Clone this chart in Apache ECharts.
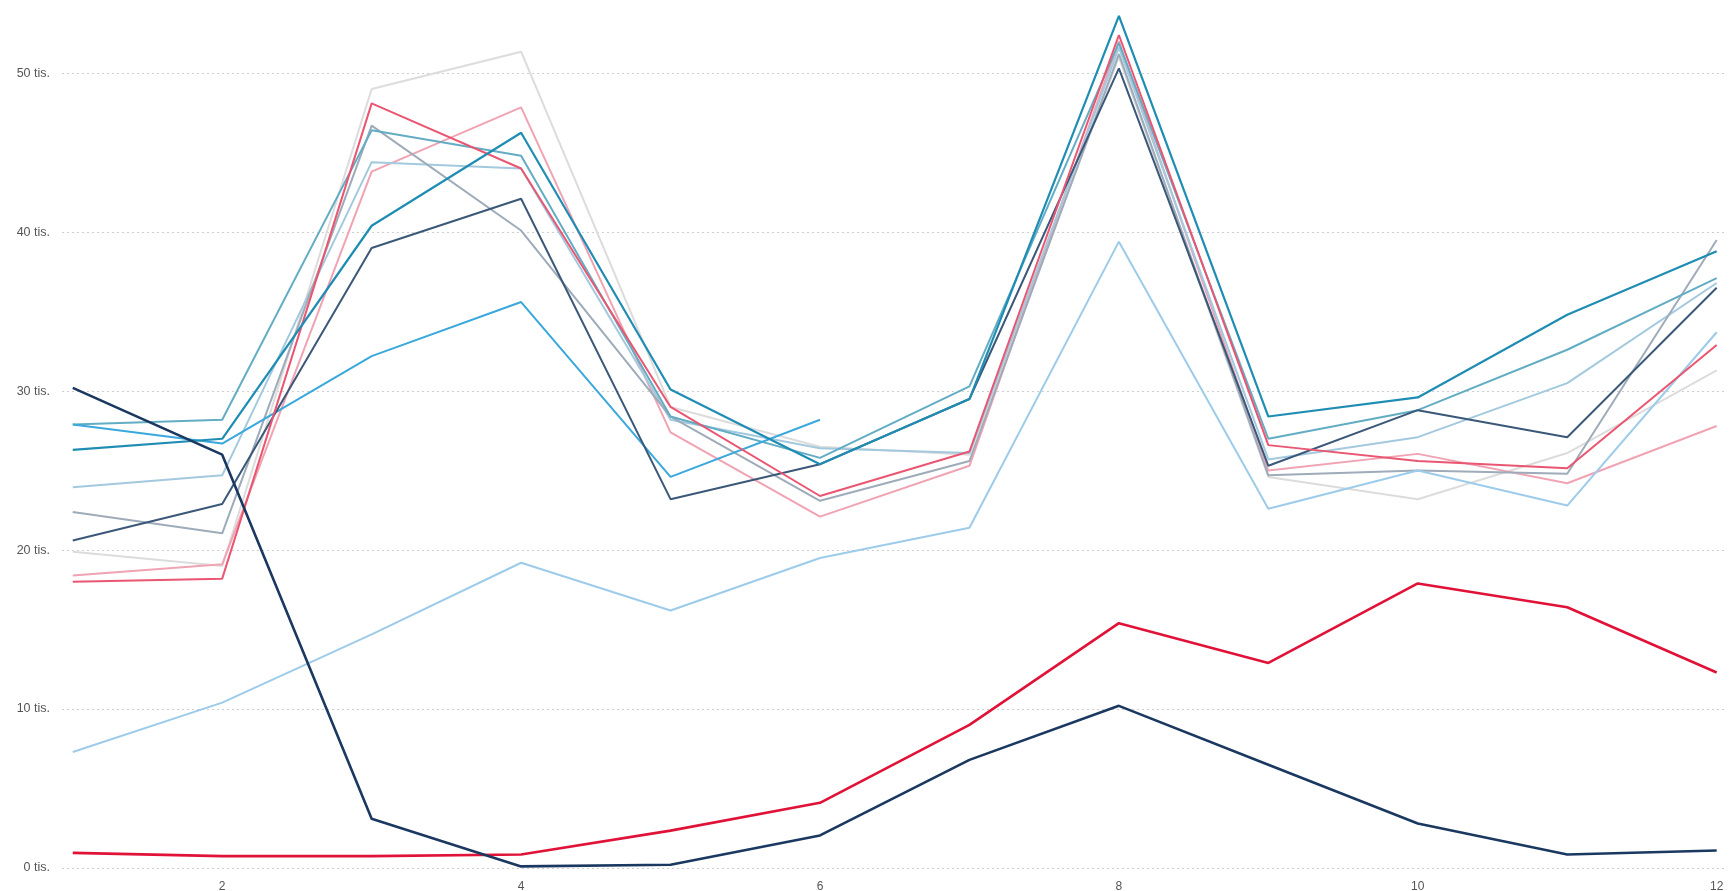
<!DOCTYPE html>
<html>
<head>
<meta charset="utf-8">
<script src="https://cdn.jsdelivr.net/npm/echarts@6/dist/echarts.min.js"></script>
<style>
html,body{margin:0;padding:0;background:#fff;}
#chart{width:1729px;height:891px;}
</style>
</head>
<body>
<div id="chart"></div>
<script>
// x positions (months 1..12)
const months = [1,2,3,4,5,6,7,8,9,10,11,12];
const xTickValues = [2,4,6,8,10,12];
const yTickValues = [0,10,20,30,40,50];

// series values (thousands)
const sLightGray = [19.9,19.0,49.0,51.35,29.0,26.5,26.0,51.0,24.6,23.2,26.1,31.3];
const sPink      = [18.4,19.1,43.8,47.85,27.4,22.1,25.3,52.0,25.0,26.05,24.2,27.8];
const sLightBG   = [23.95,24.7,44.4,44.0,28.2,26.4,26.1,51.6,25.7,27.1,30.5,36.8];
const sGray      = [22.4,21.05,46.7,40.1,28.4,23.1,25.6,51.2,24.7,25.0,24.8,39.5];
const sLightBlue = [7.3,10.4,14.7,19.2,16.2,19.5,21.4,39.4,22.6,25.0,22.8,33.7];
const sTealGray  = [27.9,28.2,46.4,44.8,28.4,25.8,30.3,51.9,27.0,28.8,32.6,37.1];
const sSkyBlue   = [27.9,26.7,32.2,35.6,24.6,28.2,null,null,null,null,null,null];
const sNavySlate = [20.6,22.9,39.0,42.1,23.2,25.4,29.5,50.3,25.3,28.8,27.1,36.5];
const sRedPink   = [18.0,18.2,48.1,44.0,29.0,23.4,26.2,52.4,26.6,25.6,25.15,32.9];
const sTeal      = [26.3,27.0,40.4,46.25,30.1,25.4,29.5,53.6,28.4,29.6,34.8,38.8];
const sRed       = [0.95,0.75,0.75,0.85,2.35,4.1,9.0,15.4,12.9,17.9,16.4,12.3];
const sNavy      = [30.2,26.0,3.1,0.1,0.2,2.05,6.8,10.2,6.5,2.8,0.85,1.1];

const seriesDefs = [
  {name:'a', data:sLightGray, color:'#dcdcdc', w:2},
  {name:'b', data:sPink,      color:'#f0a3b3', w:2},
  {name:'c', data:sLightBG,   color:'#a3c9de', w:2},
  {name:'d', data:sGray,      color:'#9eabb9', w:2},
  {name:'e', data:sLightBlue, color:'#9dcbea', w:2},
  {name:'f', data:sTealGray,  color:'#62adc3', w:2},
  {name:'g', data:sSkyBlue,   color:'#3aa8dc', w:2},
  {name:'h', data:sNavySlate, color:'#3b5878', w:2},
  {name:'i', data:sRedPink,   color:'#ea5671', w:2},
  {name:'j', data:sTeal,      color:'#1f8db3', w:2.2},
  {name:'k', data:sRed,       color:'#e11238', w:2.6},
  {name:'l', data:sNavy,      color:'#1b3861', w:2.6}
];

const chart = echarts.init(document.getElementById('chart'), null, {renderer:'canvas'});
chart.setOption({
  animation:false,
  backgroundColor:'#ffffff',
  grid:{left:62, right:2, top:0, bottom:23, containLabel:false, outerBoundsMode:'none'},
  xAxis:{
    type:'value', min:0.928, max:12.069,
    axisLine:{show:false}, axisTick:{show:false}, splitLine:{show:false},
    axisLabel:{customValues:xTickValues, color:'#555', fontSize:12, margin:13, fontFamily:'Liberation Sans, Arial, sans-serif'}
  },
  yAxis:{
    type:'value', min:0, max:54.6, interval:10,
    axisLine:{show:false}, axisTick:{show:false},
    splitLine:{show:true, showMaxLine:false, lineStyle:{color:'#cfcfcf', type:[2,3], width:1}},
    axisLabel:{color:'#555', fontSize:12.5, margin:12, showMaxLabel:false, fontFamily:'Liberation Sans, Arial, sans-serif',
      formatter:function(v){ return yTickValues.indexOf(v) >= 0 ? v + ' tis.' : ''; }}
  },
  series: seriesDefs.map(s => ({
    type:'line', name:s.name,
    data: s.data.map((v,i) => [months[i], v]),
    showSymbol:false, symbol:'none', connectNulls:false,
    lineStyle:{color:s.color, width:s.w},
    itemStyle:{color:s.color},
    emphasis:{disabled:true}
  }))
});
</script>
</body>
</html>
